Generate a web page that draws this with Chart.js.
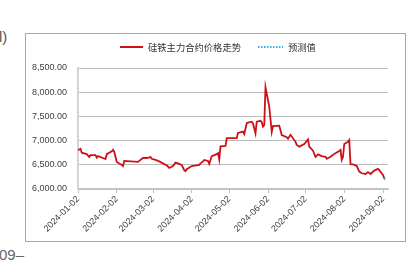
<!DOCTYPE html>
<html><head><meta charset="utf-8">
<script src="https://cdn.jsdelivr.net/npm/chart.js@4/dist/chart.umd.min.js"></script>
<style>
html,body{margin:0;padding:0;background:#fff;}
#wrap{position:relative;width:420px;height:276px;overflow:hidden;}
#frame{position:absolute;left:25px;top:33px;width:379px;height:207px;border:1px solid #a8a8a8;}
#c{position:absolute;left:0;top:0;}
.cut{position:absolute;font-family:"Liberation Sans",Arial,sans-serif;color:#555;}
</style></head>
<body><div id="wrap">
<div id="frame"></div>
<span class="cut" style="left:-1px;top:28px;font-size:15px;">l)</span>
<span class="cut" style="left:-1px;top:246px;font-size:15px;color:#666;">09–</span>
<canvas id="c" width="420" height="276"></canvas>
</div>
<script>
const seriesName = '硅铁主力合约价格走势';
const forecastName = '预测值';
const dates = ['2024-01-02','2024-01-04','2024-01-05','2024-01-09','2024-01-11','2024-01-12','2024-01-16','2024-01-17','2024-01-18','2024-01-22','2024-01-24','2024-01-25','2024-01-29','2024-01-30','2024-01-31',
'2024-02-02','2024-02-05','2024-02-06','2024-02-07','2024-02-08','2024-02-19','2024-02-23','2024-02-26','2024-02-29',
'2024-03-01','2024-03-04','2024-03-07','2024-03-11','2024-03-13','2024-03-15','2024-03-18','2024-03-20','2024-03-22','2024-03-25','2024-03-27','2024-03-28','2024-03-29',
'2024-04-02','2024-04-08','2024-04-09','2024-04-11','2024-04-12','2024-04-15','2024-04-16','2024-04-18','2024-04-22','2024-04-23','2024-04-24','2024-04-25','2024-04-29','2024-04-30',
'2024-05-08','2024-05-09','2024-05-10','2024-05-13','2024-05-14','2024-05-16','2024-05-17','2024-05-20','2024-05-21','2024-05-23','2024-05-24','2024-05-27','2024-05-28','2024-05-29','2024-05-30','2024-05-31',
'2024-06-03','2024-06-05','2024-06-06','2024-06-11','2024-06-13','2024-06-17','2024-06-18','2024-06-20','2024-06-24','2024-06-25','2024-06-27',
'2024-07-01','2024-07-04','2024-07-05','2024-07-08','2024-07-10','2024-07-12','2024-07-15','2024-07-18','2024-07-19','2024-07-22','2024-07-25','2024-07-29','2024-07-30','2024-07-31',
'2024-08-01','2024-08-02','2024-08-05','2024-08-06','2024-08-07','2024-08-09','2024-08-12','2024-08-14','2024-08-16','2024-08-19','2024-08-21','2024-08-23','2024-08-26','2024-08-29','2024-08-30',
'2024-09-02','2024-09-03'];
const prices = [6800,6830,6750,6720,6660,6700,6700,6650,6680,6640,6620,6720,6780,6810,6770,
6560,6510,6500,6475,6580,6560,6640,6640,6660,
6625,6600,6570,6515,6490,6435,6475,6545,6530,6495,6390,6370,6410,
6475,6500,6530,6570,6600,6580,6520,6680,6720,6740,6610,6880,6890,7050,
7050,7160,7165,7185,7135,7360,7370,7390,7355,7150,7390,7410,7380,7290,7320,8100,
7700,7180,7300,7310,7115,7070,7040,7120,6975,6910,6875,
6930,7025,6875,6790,6665,6715,6680,6665,6625,6665,6725,6785,6805,6600,
6665,6930,6975,7010,6515,6510,6475,6360,6325,6310,6350,6310,6380,6415,6390,
6290,6220];
const forecastDates = ['2024-09-03','2024-09-04'];
const forecastValues = [6220,6190];
const xTickDates = ['2024-01-02','2024-02-02','2024-03-02','2024-04-02','2024-05-02','2024-06-02','2024-07-02','2024-08-02','2024-09-02'];
const xEndDate = '2024-09-06';
const yTicks = [6000,6500,7000,7500,8000,8500];

const base = Date.UTC(2024,0,2);
function dayOf(s){const p=s.split('-').map(Number);return Math.round((Date.UTC(p[0],p[1]-1,p[2])-base)/864e5);}

const legendPlugin = {
  id:'customLegend',
  afterDraw(chart){
    const ctx = chart.ctx;
    const slots = [{x:120,w:23},{x:258,w:25}];
    const y = 47;
    chart.data.datasets.forEach((ds,i)=>{
      const s = slots[i];
      ctx.save();
      ctx.strokeStyle = ds.borderColor;
      ctx.lineWidth = 2;
      ctx.setLineDash(ds.borderDash || []);
      ctx.beginPath(); ctx.moveTo(s.x,y); ctx.lineTo(s.x+s.w,y); ctx.stroke();
      ctx.setLineDash([]);
      ctx.fillStyle = '#333';
      ctx.font = '9.3px "Noto Sans CJK SC", sans-serif';
      ctx.textBaseline = 'middle';
      ctx.fillText(ds.label, s.x+s.w+5, y);
      ctx.restore();
    });
  }
};

new Chart(document.getElementById('c'), {
  type:'line',
  data:{datasets:[
    {label:seriesName, data:dates.map((d,i)=>({x:dayOf(d),y:prices[i]})), borderColor:'#cc1219', borderWidth:1.8, pointRadius:0, tension:0},
    {label:forecastName, data:forecastDates.map((d,i)=>({x:dayOf(d),y:forecastValues[i]})), borderColor:'#2fb0e6', borderWidth:2, borderDash:[1.5,1.5], pointRadius:0, tension:0}
  ]},
  options:{
    responsive:false, animation:false,
    layout:{padding:{left:0,right:32,top:68,bottom:0}},
    plugins:{legend:{display:false},tooltip:{enabled:false}},
    scales:{
      x:{type:'linear', min:0, max:dayOf(xEndDate),
        afterBuildTicks:(s)=>{s.ticks = xTickDates.map(d=>({value:dayOf(d)}));},
        afterFit:(s)=>{s.height = 87;},
        grid:{drawOnChartArea:false, drawTicks:true, tickLength:4, color:'#bfbfbf'},
        border:{color:'#c4c4c4', width:1.5},
        ticks:{autoSkip:false, minRotation:45, maxRotation:45, padding:1, color:'#404040',
          font:{family:'"Liberation Sans", Arial, sans-serif', size:9},
          callback:(v,i)=>xTickDates[i]}
      },
      y:{min:6000, max:8500,
        afterBuildTicks:(s)=>{s.ticks = yTicks.map(v=>({value:v}));},
        afterFit:(s)=>{s.width = 78;},
        grid:{color:'#bdbdbd', drawTicks:false, lineWidth:1},
        border:{color:'#d4d4d4', width:2},
        ticks:{padding:11, color:'#404040',
          font:{family:'"Liberation Sans", Arial, sans-serif', size:9},
          callback:(v)=>v.toLocaleString('en-US',{minimumFractionDigits:2,maximumFractionDigits:2})}
      }
    }
  },
  plugins:[legendPlugin]
});
</script>
</body></html>
